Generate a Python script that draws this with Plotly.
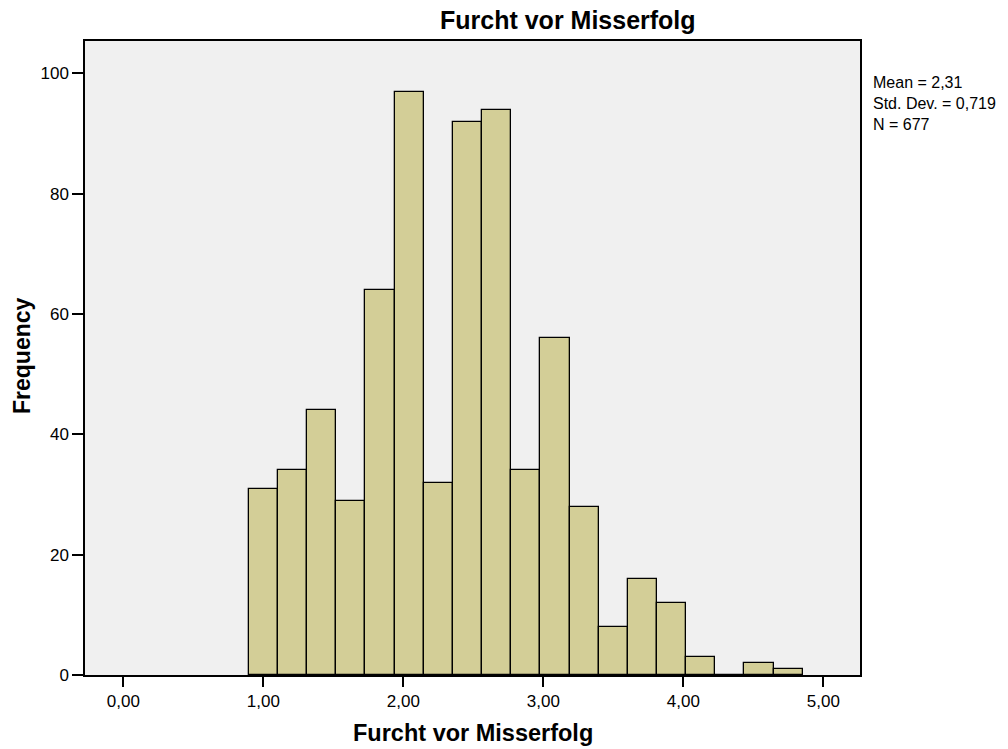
import plotly.graph_objects as go

# Data
bin_start = 0.8958
bin_width = 0.2083
counts = [31, 34, 44, 29, 64, 97, 32, 92, 94, 34, 56, 28, 8, 16, 12, 3, 0, 2, 1]
x_tick_vals = [0, 1, 2, 3, 4, 5]
x_tick_labels = ["0,00", "1,00", "2,00", "3,00", "4,00", "5,00"]
y_tick_vals = [0, 20, 40, 60, 80, 100]
stats_lines = ["Mean = 2,31", "Std. Dev. = 0,719", "N = 677"]
chart_title = "Furcht vor Misserfolg"
x_title = "Furcht vor Misserfolg"
y_title = "Frequency"

centers = [bin_start + bin_width * (i + 0.5) for i in range(len(counts))]

font_family = "Liberation Sans, Arial, sans-serif"

# plot area in pixels: x 85..860, y 41..675
L, R, T, B = 85, 860, 41, 675
W, H = R - L, B - T


def px(xp):
    return (xp - L) / W


def py(yp):
    return (B - yp) / H


fig = go.Figure()
fig.add_trace(go.Bar(
    x=centers,
    y=counts,
    width=[bin_width] * len(counts),
    marker=dict(color="#D3CE97", line=dict(color="#000000", width=1.3)),
    showlegend=False,
    hoverinfo="x+y",
))

annotations = [
    dict(text="<b>%s</b>" % chart_title, xref="paper", yref="paper",
         x=px(568), y=py(20), xanchor="center", yanchor="middle",
         showarrow=False, font=dict(size=25)),
    dict(text="<b>%s</b>" % x_title, xref="paper", yref="paper",
         x=px(473), y=py(733), xanchor="center", yanchor="middle",
         showarrow=False, font=dict(size=23.5)),
    dict(text="<b>%s</b>" % y_title, xref="paper", yref="paper",
         x=px(22), y=py(356), xanchor="center", yanchor="middle",
         textangle=-90, showarrow=False, font=dict(size=23)),
    dict(text="<br>".join(stats_lines), xref="paper", yref="paper",
         x=px(871), y=py(72), xanchor="left", yanchor="top",
         align="left", showarrow=False, font=dict(size=16)),
]

axis_common = dict(
    tickmode="array",
    ticks="outside",
    tickwidth=1.5,
    tickcolor="black",
    showgrid=False,
    zeroline=False,
    showline=True,
    linecolor="black",
    linewidth=1.5,
    mirror=True,
    tickfont=dict(size=17),
    automargin=False,
)

fig.update_layout(
    width=1008,
    height=749,
    margin=dict(l=L, r=1008 - R, t=T, b=749 - B, autoexpand=False),
    paper_bgcolor="white",
    plot_bgcolor="#F0F0F0",
    font=dict(family=font_family, size=16, color="black"),
    bargap=0,
    xaxis=dict(range=[-0.274, 5.262], tickvals=x_tick_vals, ticktext=x_tick_labels,
               ticklen=10, **axis_common),
    yaxis=dict(range=[0, 105.4], tickvals=y_tick_vals, ticklen=11, **axis_common),
    annotations=annotations,
)

fig.write_html("out.html")
